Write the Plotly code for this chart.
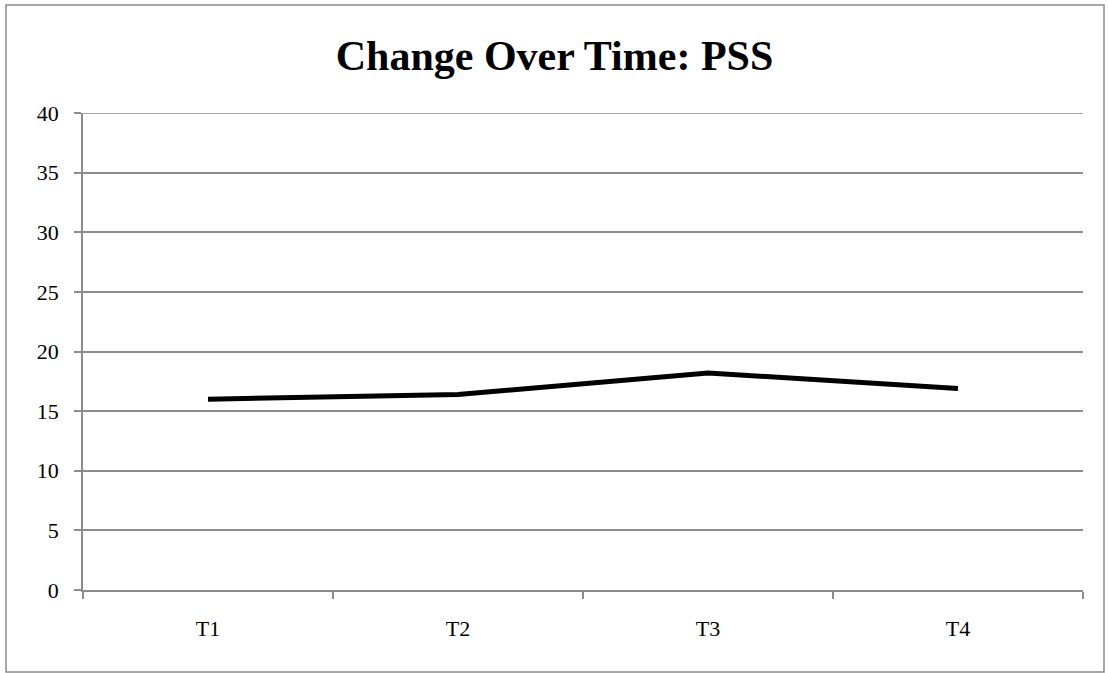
import plotly.graph_objects as go

# PSS scores at each time point
time_points = ["T1", "T2", "T3", "T4"]
pss_scores = [16.0, 16.4, 18.2, 16.9]

y_ticks = [0, 5, 10, 15, 20, 25, 30, 35, 40]

W, H = 1109, 673
ML, MR, MT, MB = 83, 26, 113, 83
plot_w = W - ML - MR
plot_h = H - MT - MB

grid_color = "#8c8c8c"
font_family = "Liberation Serif, Times New Roman, serif"

fig = go.Figure()
fig.add_trace(go.Scatter(
    x=time_points,
    y=pss_scores,
    mode="lines",
    line=dict(color="black", width=5),
    showlegend=False,
    hoverinfo="x+y",
))

# Outer chart frame, expressed in paper coordinates
def px_x(p):
    return (p - ML) / plot_w

def px_y(p):
    return (H - MB - p) / plot_h

fig.add_shape(
    type="rect", xref="paper", yref="paper",
    x0=px_x(6), x1=px_x(1104), y0=px_y(672), y1=px_y(5),
    line=dict(color="#8a8a8a", width=1.5), fillcolor="rgba(0,0,0,0)",
    layer="below",
)

# Top gridline at the axis maximum
fig.add_shape(
    type="line", xref="paper", yref="y",
    x0=0, x1=1, y0=max(y_ticks), y1=max(y_ticks),
    line=dict(color=grid_color, width=1.5), layer="below",
)

fig.update_layout(
    width=W, height=H,
    margin=dict(l=ML, r=MR, t=MT, b=MB, pad=0),
    paper_bgcolor="white",
    plot_bgcolor="white",
    font=dict(family=font_family, color="black", size=22),
    title=dict(
        text="<b>Change Over Time: PSS</b>",
        x=0.5, xref="container", xanchor="center",
        y=1 - 55 / H, yref="container", yanchor="middle",
        font=dict(size=42, family=font_family, color="black"),
    ),
    xaxis=dict(
        type="category",
        range=[-0.5, len(time_points) - 0.5],
        tickson="boundaries",
        ticks="outside", ticklen=7, tickwidth=1.5, tickcolor=grid_color,
        showline=True, linecolor=grid_color, linewidth=1.5,
        showgrid=False, zeroline=False,
        tickfont=dict(size=22),
        ticklabelstandoff=18,
    ),
    yaxis=dict(
        range=[0, 40], tickvals=y_ticks,
        ticks="outside", ticklen=7, tickwidth=1.5, tickcolor=grid_color,
        showline=True, linecolor=grid_color, linewidth=1.5,
        showgrid=True, gridcolor=grid_color, gridwidth=1.5,
        zeroline=False,
        tickfont=dict(size=22),
        ticklabelstandoff=11,
    ),
)

fig.write_html("out.html")
